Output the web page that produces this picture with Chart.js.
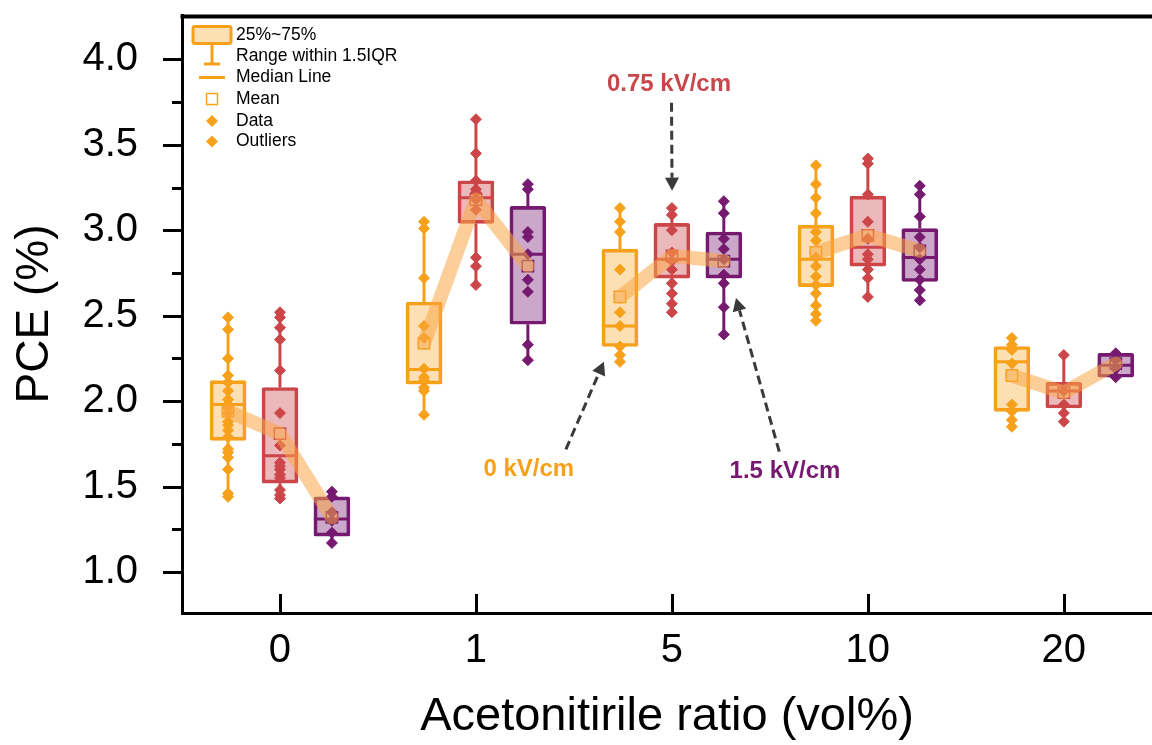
<!DOCTYPE html>
<html>
<head>
<meta charset="utf-8">
<title>PCE vs acetonitrile ratio</title>
<script src="https://cdn.jsdelivr.net/npm/chart.js@4.4.1/dist/chart.umd.min.js"></script>
<style>
  html, body { margin: 0; padding: 0; background: #fff; }
</style>
</head>
<body>
<canvas id="pceChart" width="1152" height="745"></canvas>
<script>
// x categories (acetonitrile vol%) and y tick values
const ratioLabels = ['0', '1', '5', '10', '20'];
const yMajorTicks = [1.0, 1.5, 2.0, 2.5, 3.0, 3.5, 4.0];
const yMinorTicks = [1.25, 1.75, 2.25, 2.75, 3.25, 3.75];

// 0 kV/cm
const q1_0kV   = [1.77, 2.10, 2.32, 2.67, 1.94];
const med_0kV  = [1.98, 2.185, 2.44, 2.83, 2.23];
const q3_0kV   = [2.12, 2.58, 2.89, 3.03, 2.32];
const mean_0kV = [1.94, 2.34, 2.61, 2.87, 2.15];
const lo_0kV   = [1.44, 1.92, 2.23, 2.47, 1.85];
const hi_0kV   = [2.49, 3.05, 3.13, 3.38, 2.37];
const pts_0kV = [
  [2.49, 2.42, 2.25, 2.15, 2.11, 2.06, 2.01, 1.98, 1.96, 1.93, 1.88, 1.86, 1.83, 1.79, 1.72, 1.70, 1.67, 1.60, 1.46, 1.44],
  [3.05, 3.01, 2.72, 2.44, 2.37, 2.19, 2.14, 2.12, 2.08, 2.06, 1.92],
  [3.13, 3.05, 2.99, 2.77, 2.52, 2.44, 2.32, 2.27, 2.23],
  [3.38, 3.27, 3.19, 3.10, 2.99, 2.94, 2.84, 2.79, 2.73, 2.68, 2.63, 2.56, 2.51, 2.47],
  [2.37, 2.33, 2.30, 2.22, 1.98, 1.94, 1.89, 1.85]
];

// 0.75 kV/cm
const q1_075kV   = [1.52, 3.04, 2.72, 2.79, 1.96];
const med_075kV  = [1.68, 3.19, 2.83, 2.90, 2.06];
const q3_075kV   = [2.08, 3.29, 3.04, 3.20, 2.11];
const mean_075kV = [1.81, 3.18, 2.85, 2.97, 2.05];
const lo_075kV   = [1.43, 2.68, 2.52, 2.61, 1.88];
const hi_075kV   = [2.52, 3.65, 3.13, 3.42, 2.27];
const pts_075kV = [
  [2.52, 2.49, 2.43, 2.36, 2.18, 1.93, 1.74, 1.64, 1.62, 1.60, 1.57, 1.55, 1.48, 1.45, 1.43],
  [3.65, 3.45, 3.29, 3.24, 3.22, 3.18, 3.12, 2.84, 2.79, 2.68],
  [3.13, 3.09, 3.00, 2.87, 2.82, 2.77, 2.69, 2.63, 2.57, 2.52],
  [3.42, 3.39, 3.21, 3.05, 2.95, 2.86, 2.83, 2.77, 2.72, 2.61],
  [2.27, 2.06, 1.98, 1.93, 1.88]
];

// 1.5 kV/cm
const q1_15kV   = [1.21, 2.45, 2.72, 2.70, 2.14];
const med_15kV  = [1.31, 2.86, 2.83, 2.84, 2.21];
const q3_15kV   = [1.44, 3.14, 2.99, 3.01, 2.28];
const mean_15kV = [1.32, 2.79, 2.82, 2.88, 2.22];
const lo_15kV   = [1.17, 2.24, 2.39, 2.59, 2.14];
const hi_15kV   = [1.47, 3.27, 3.17, 3.26, 2.28];
const pts_15kV = [
  [1.47, 1.44, 1.35, 1.30, 1.23, 1.17],
  [3.27, 3.24, 2.99, 2.96, 2.86, 2.71, 2.64, 2.33, 2.24],
  [3.17, 3.10, 2.95, 2.89, 2.83, 2.74, 2.69, 2.55, 2.39],
  [3.26, 3.21, 3.08, 2.96, 2.90, 2.83, 2.77, 2.71, 2.65, 2.59],
  [2.28, 2.24, 2.19, 2.14]
];

const fields = [
  { stroke: '#F7A01A', fill: 'rgba(247,160,26,0.33)', offset: -0.265,
    q1: q1_0kV, med: med_0kV, q3: q3_0kV, mean: mean_0kV, lo: lo_0kV, hi: hi_0kV, pts: pts_0kV },
  { stroke: '#CC4649', fill: 'rgba(204,70,73,0.38)', offset: 0,
    q1: q1_075kV, med: med_075kV, q3: q3_075kV, mean: mean_075kV, lo: lo_075kV, hi: hi_075kV, pts: pts_075kV },
  { stroke: '#761A70', fill: 'rgba(118,26,112,0.38)', offset: 0.265,
    q1: q1_15kV, med: med_15kV, q3: q3_15kV, mean: mean_15kV, lo: lo_15kV, hi: hi_15kV, pts: pts_15kV }
];

// field labels with dashed arrows, in data coordinates
const arrowNotes = [
  { text: '0.75 kV/cm', color: '#C9464A', at: [1.985, 3.853], from: [1.998, 3.747], to: [2.001, 3.232] },
  { text: '0 kV/cm',    color: '#F7A01A', at: [1.270, 1.603], from: [1.459, 1.718], to: [1.653, 2.231] },
  { text: '1.5 kV/cm',  color: '#761A70', at: [2.577, 1.587], from: [2.548, 1.704], to: [2.327, 2.604] }
];

const FONT = '"Liberation Sans", Arial, Helvetica, sans-serif';
const MED_HALF = 0.092;   // half box width in x units
const trendColor = 'rgba(250,165,70,0.55)';

const datasets = [];

fields.forEach(f => {
  const xs = ratioLabels.map((_, i) => i + f.offset);

  datasets.push({
    type: 'bar',
    data: xs.map((x, i) => ({ x: x, y: [f.q1[i], f.q3[i]] })),
    backgroundColor: f.fill,
    borderColor: f.stroke,
    borderWidth: 3,
    borderSkipped: false,
    borderRadius: 2,
    barThickness: 36,
    grouped: false,
    order: 5
  });

  // whiskers above and below the box
  const whisk = [];
  xs.forEach((x, i) => {
    whisk.push({ x: x, y: f.hi[i] }, { x: x, y: f.q3[i] }, { x: x, y: null });
    whisk.push({ x: x, y: f.q1[i] }, { x: x, y: f.lo[i] }, { x: x, y: null });
  });
  datasets.push({
    type: 'line', data: whisk, borderColor: f.stroke, borderWidth: 3,
    pointRadius: 0, spanGaps: false, order: 4
  });

  const medians = [];
  xs.forEach((x, i) => {
    medians.push({ x: x - MED_HALF, y: f.med[i] }, { x: x + MED_HALF, y: f.med[i] }, { x: x, y: null });
  });
  datasets.push({
    type: 'line', data: medians, borderColor: f.stroke, borderWidth: 3,
    pointRadius: 0, spanGaps: false, order: 4
  });

  const dots = [];
  xs.forEach((x, i) => f.pts[i].forEach(v => dots.push({ x: x, y: v })));
  datasets.push({
    type: 'scatter', data: dots, pointStyle: 'rectRot', pointRadius: 5.5,
    backgroundColor: f.stroke, borderColor: f.stroke, borderWidth: 1, order: 3
  });

  datasets.push({
    type: 'scatter', data: xs.map((x, i) => ({ x: x, y: f.mean[i] })),
    pointStyle: 'rect', pointRadius: 8, backgroundColor: 'rgba(0,0,0,0)',
    borderColor: f.stroke, borderWidth: 1.5, order: 2
  });
});

// thick line through the means of each ratio group
ratioLabels.forEach((_, i) => {
  datasets.push({
    type: 'line',
    data: fields.map(f => ({ x: i + f.offset, y: f.mean[i] })),
    borderColor: trendColor, borderWidth: 14,
    borderCapStyle: 'round', borderJoinStyle: 'round',
    pointRadius: 0, order: 1
  });
});

function drawArrow(ctx, x1, y1, x2, y2) {
  const ang = Math.atan2(y2 - y1, x2 - x1);
  const head = 13, half = 7;
  const bx = x2 - head * Math.cos(ang), by = y2 - head * Math.sin(ang);
  ctx.save();
  ctx.strokeStyle = '#3a3a3a';
  ctx.fillStyle = '#3a3a3a';
  ctx.lineWidth = 3;
  ctx.setLineDash([9, 5]);
  ctx.beginPath();
  ctx.moveTo(x1, y1);
  ctx.lineTo(bx, by);
  ctx.stroke();
  ctx.setLineDash([]);
  ctx.beginPath();
  ctx.moveTo(x2, y2);
  ctx.lineTo(bx + half * Math.sin(ang), by - half * Math.cos(ang));
  ctx.lineTo(bx - half * Math.sin(ang), by + half * Math.cos(ang));
  ctx.closePath();
  ctx.fill();
  ctx.restore();
}

const framePlugin = {
  id: 'frame',
  afterDraw(chart) {
    const { ctx, chartArea: a, scales: { x, y } } = chart;
    ctx.save();
    ctx.strokeStyle = '#000';
    ctx.lineWidth = 4;
    ctx.beginPath();
    ctx.moveTo(a.left - 1.5, a.top + 1.5);
    ctx.lineTo(chart.width, a.top + 1.5);
    ctx.stroke();

    ctx.lineWidth = 3;
    ctx.beginPath();
    yMajorTicks.forEach(v => {
      const py = Math.round(y.getPixelForValue(v)) + 0.5;
      ctx.moveTo(a.left - 19, py);
      ctx.lineTo(a.left, py);
    });
    yMinorTicks.forEach(v => {
      const py = Math.round(y.getPixelForValue(v)) + 0.5;
      ctx.moveTo(a.left - 10, py);
      ctx.lineTo(a.left, py);
    });
    ratioLabels.forEach((_, i) => {
      const px = Math.round(x.getPixelForValue(i)) + 0.5;
      ctx.moveTo(px, a.bottom);
      ctx.lineTo(px, a.bottom - 19);
    });
    ctx.stroke();
    ctx.restore();
  }
};

const notesPlugin = {
  id: 'notes',
  afterDraw(chart) {
    const { ctx, scales: { x, y } } = chart;
    arrowNotes.forEach(n => {
      drawArrow(ctx, x.getPixelForValue(n.from[0]), y.getPixelForValue(n.from[1]),
                x.getPixelForValue(n.to[0]), y.getPixelForValue(n.to[1]));
      ctx.save();
      ctx.font = 'bold 24px ' + FONT;
      ctx.fillStyle = n.color;
      ctx.textAlign = 'center';
      ctx.textBaseline = 'middle';
      ctx.fillText(n.text, x.getPixelForValue(n.at[0]), y.getPixelForValue(n.at[1]));
      ctx.restore();
    });
  }
};

// box-plot key in the upper left corner
const keyPlugin = {
  id: 'boxKey',
  afterDraw(chart) {
    const { ctx } = chart;
    const c = fields[0].stroke;
    const sx = 212, tx = 236;
    const rows = [35.5, 56.5, 77.5, 99, 121, 141.5];
    const texts = ['25%~75%', 'Range within 1.5IQR', 'Median Line', 'Mean', 'Data', 'Outliers'];
    ctx.save();
    ctx.strokeStyle = c;
    ctx.fillStyle = c;
    ctx.lineWidth = 3;

    // whisker with cap
    ctx.beginPath();
    ctx.moveTo(sx, 44); ctx.lineTo(sx, 64);
    ctx.moveTo(sx - 8, 64); ctx.lineTo(sx + 8, 64);
    ctx.stroke();
    // box
    ctx.fillStyle = fields[0].fill;
    ctx.beginPath();
    ctx.roundRect(193, 26.5, 38, 17, 2);
    ctx.fill();
    ctx.stroke();
    // median line
    ctx.beginPath();
    ctx.moveTo(199, rows[2]); ctx.lineTo(225, rows[2]);
    ctx.stroke();
    // mean
    ctx.lineWidth = 1.5;
    ctx.strokeRect(sx - 5.5, rows[3] - 5.5, 11, 11);
    // data and outliers
    ctx.fillStyle = c;
    [rows[4], rows[5]].forEach(cy => {
      ctx.beginPath();
      ctx.moveTo(sx, cy - 6); ctx.lineTo(sx + 6, cy);
      ctx.lineTo(sx, cy + 6); ctx.lineTo(sx - 6, cy);
      ctx.closePath();
      ctx.fill();
    });

    ctx.fillStyle = '#000';
    ctx.font = '17.5px ' + FONT;
    ctx.textBaseline = 'middle';
    texts.forEach((t, i) => ctx.fillText(t, tx, rows[i]));
    ctx.restore();
  }
};

Chart.defaults.font.family = FONT;
Chart.defaults.color = '#000';

new Chart(document.getElementById('pceChart'), {
  type: 'scatter',
  data: { datasets: datasets },
  options: {
    responsive: false,
    animation: false,
    events: [],
    layout: { autoPadding: false, padding: { top: 15, right: 0, bottom: 0, left: 0 } },
    plugins: { legend: { display: false }, tooltip: { enabled: false } },
    scales: {
      x: {
        type: 'linear',
        min: -0.5,
        max: 4.45,
        offset: false,
        grid: { display: false, drawTicks: false },
        border: { display: true, color: '#000', width: 3 },
        afterBuildTicks: s => { s.ticks = ratioLabels.map((_, i) => ({ value: i })); },
        afterFit: s => { s.height = 132; s.paddingLeft = 0; s.paddingRight = 0; },
        ticks: {
          autoSkip: false, maxRotation: 0, padding: 14,
          font: { size: 40 },
          callback: v => ratioLabels[v]
        },
        title: {
          display: true, text: 'Acetonitirile ratio (vol%)',
          font: { size: 47 }, padding: { top: 0, bottom: 0 }
        }
      },
      y: {
        type: 'linear',
        min: 0.76,
        max: 4.26,
        grid: { display: false, drawTicks: false },
        border: { display: true, color: '#000', width: 3 },
        afterBuildTicks: s => { s.ticks = yMajorTicks.map(v => ({ value: v })); },
        afterFit: s => { s.width = 182; s.paddingTop = 0; s.paddingBottom = 0; },
        ticks: {
          autoSkip: false, padding: 44,
          font: { size: 40 },
          callback: v => v.toFixed(1)
        },
        title: {
          display: true, text: 'PCE (%)',
          font: { size: 46 }, padding: { top: 8, bottom: 0 }
        }
      }
    }
  },
  plugins: [framePlugin, notesPlugin, keyPlugin]
});
</script>
</body>
</html>
